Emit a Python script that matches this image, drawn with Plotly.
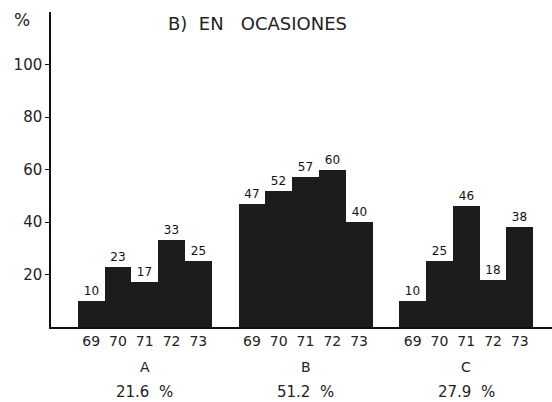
import plotly.graph_objects as go

groups = ["A", "B", "C"]
years = ["69", "70", "71", "72", "73"]
values_A = [10, 23, 17, 33, 25]
values_B = [47, 52, 57, 60, 40]
values_C = [10, 25, 46, 18, 38]
group_share = ["21.6  %", "51.2  %", "27.9  %"]
y_ticks = [20, 40, 60, 80, 100]
title_text = "B)  EN   OCASIONES"

series = [values_A, values_B, values_C]
group_step = len(years) + 1

xs, ys, ticktext = [], [], []
for g, vals in enumerate(series):
    for i, v in enumerate(vals):
        xs.append(g * group_step + i)
        ys.append(v)
        ticktext.append(years[i])

FONT = "DejaVu Sans"
fig = go.Figure()
fig.add_trace(go.Bar(
    x=xs, y=ys, width=[1] * len(xs),
    marker=dict(color="#1c1c1c", line=dict(width=0)),
    text=[str(v) for v in ys], textposition="outside",
    textfont=dict(family=FONT, size=12, color="#111"),
    cliponaxis=False, showlegend=False, hoverinfo="skip",
))

annotations = []
for g, name in enumerate(groups):
    cx = g * group_step + (len(years) - 1) / 2
    annotations.append(dict(x=cx, y=-0.127, xref="x", yref="paper", text=name,
                            showarrow=False, yanchor="middle",
                            font=dict(family=FONT, size=14, color="#222")))
    annotations.append(dict(x=cx, y=-0.205, xref="x", yref="paper", text=group_share[g],
                            showarrow=False, yanchor="middle",
                            font=dict(family=FONT, size=15, color="#222")))
annotations.append(dict(x=-0.058, y=0.975, xref="paper", yref="paper", text="%",
                        showarrow=False, xanchor="center", yanchor="middle",
                        font=dict(family=FONT, size=17, color="#222")))
annotations.append(dict(x=0.413, y=0.965, xref="paper", yref="paper", text=title_text,
                        showarrow=False, xanchor="center", yanchor="middle",
                        font=dict(family=FONT, size=18, color="#222")))

fig.update_layout(
    width=552, height=402,
    margin=dict(l=51, r=0, t=12, b=75, autoexpand=False),
    paper_bgcolor="white", plot_bgcolor="white",
    bargap=0,
    annotations=annotations,
)

fig.update_xaxes(range=[-1.5, 17.2], tickmode="array", tickvals=xs, ticktext=ticktext,
                 showline=True, linecolor="#111", linewidth=1.5, ticks="",
                 showgrid=False, zeroline=False, automargin=False,
                 tickfont=dict(family=FONT, size=14, color="#222"))
fig.update_yaxes(range=[0, 120], tickmode="array", tickvals=y_ticks,
                 showline=True, linecolor="#111", linewidth=1.5,
                 ticks="outside", ticklen=4, tickcolor="#111",
                 showgrid=False, zeroline=False, automargin=False,
                 tickfont=dict(family=FONT, size=15, color="#222"))

fig.write_html("out.html", config={"displayModeBar": False},
               post_script="document.body.style.margin='0';document.body.style.overflow='hidden';")
